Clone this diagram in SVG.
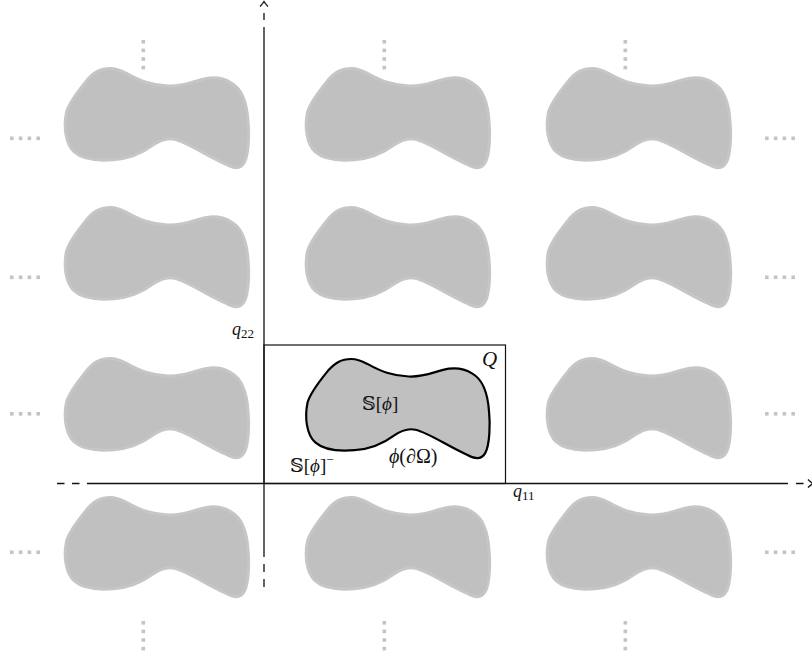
<svg xmlns="http://www.w3.org/2000/svg" width="812" height="657" viewBox="0 0 812 657">
<style>
.tile{fill:#c0c0c0;stroke:#c6c6c6;stroke-width:3;stroke-linejoin:round}
.main{fill:#c0c0c0;stroke:#000;stroke-width:2.2;stroke-linejoin:round}
.dot{fill:#c4c4c4}
.ax{stroke:#111;stroke-width:1.3;fill:none}
.cell{stroke:#111;stroke-width:1.2;fill:none}
.lbl{font-family:"Liberation Serif","DejaVu Serif","DejaVu Sans",serif;fill:#111}
.it{font-style:italic}
</style>
<defs>
<path id="blob" d="M 46,0 C 35.4,0 29.5,3.9 22.6,11.6 C 14.7,21.3 4.9,33 2,43.7 C -1,58.2 1,75.7 9.8,83.4 C 19.6,92.2 37.3,92.2 49.1,91.2 C 63.8,90.2 76.6,85.4 88.4,76.6 C 95.3,71.8 102.1,68.9 110,70.8 C 122.8,73.7 142.4,87.3 162,96 C 168.9,99.9 175.8,100.9 179.7,94.1 C 184.6,85.4 184.6,63.1 183.6,53.4 C 182.7,38.8 178.7,21.3 166.9,14.6 C 159.1,9.7 151.2,8.7 143.4,9.7 C 130.6,11.6 119.8,18.4 103.1,17.5 C 86.4,16.5 75.6,12.6 61.9,4.9 C 56,1.9 51.1,0 46,0 Z"/>
<g id="hdots"><rect x="0" y="0" width="3.6" height="3.6"/><rect x="8.8" y="0" width="3.6" height="3.6"/><rect x="17.6" y="0" width="3.6" height="3.6"/><rect x="26.4" y="0" width="3.6" height="3.6"/></g>
<g id="vdots"><rect x="0" y="0" width="3.6" height="3.6"/><rect x="0" y="8.6" width="3.6" height="3.6"/><rect x="0" y="17.2" width="3.6" height="3.6"/><rect x="0" y="25.8" width="3.6" height="3.6"/></g>
</defs>
<rect width="812" height="657" fill="#fff"/>

<g id="tiles">
<g id="tile-r1c1"><use href="#blob" class="tile" transform="translate(64.5,68.5)"/></g>
<g id="tile-r1c2"><use href="#blob" class="tile" transform="translate(305.5,68.5)"/></g>
<g id="tile-r1c3"><use href="#blob" class="tile" transform="translate(546.5,68.5)"/></g>
<g id="tile-r2c1"><use href="#blob" class="tile" transform="translate(64.5,207.5)"/></g>
<g id="tile-r2c2"><use href="#blob" class="tile" transform="translate(305.5,207.5)"/></g>
<g id="tile-r2c3"><use href="#blob" class="tile" transform="translate(546.5,207.5)"/></g>
<g id="tile-r3c1"><use href="#blob" class="tile" transform="translate(64.5,358.5)"/></g>
<g id="tile-r3c3"><use href="#blob" class="tile" transform="translate(546.5,358.5)"/></g>
<g id="tile-r4c1"><use href="#blob" class="tile" transform="translate(64.5,497.5)"/></g>
<g id="tile-r4c2"><use href="#blob" class="tile" transform="translate(305.5,497.5)"/></g>
<g id="tile-r4c3"><use href="#blob" class="tile" transform="translate(546.5,497.5)"/></g>
</g>

<g id="ellipses" class="dot">
<use href="#vdots" x="141.5" y="40"/>
<use href="#vdots" x="382.5" y="40"/>
<use href="#vdots" x="623.5" y="40"/>
<use href="#vdots" x="141.5" y="621"/>
<use href="#vdots" x="382.5" y="621"/>
<use href="#vdots" x="623.5" y="621"/>
<use href="#hdots" x="10" y="136.5"/>
<use href="#hdots" x="10" y="275.5"/>
<use href="#hdots" x="10" y="412"/>
<use href="#hdots" x="10" y="550.5"/>
<use href="#hdots" x="765" y="136.5"/>
<use href="#hdots" x="765" y="275.5"/>
<use href="#hdots" x="765" y="412"/>
<use href="#hdots" x="765" y="550.5"/>
</g>

<g id="cell-Q">
<rect class="cell" x="264" y="345" width="241.5" height="138.5"/>
<use href="#blob" class="main" transform="translate(305.5,359)"/>
</g>

<g id="connectors">
<path class="ax" d="M 264,557 V 27 M 264,20 V 13 M 264,564 V 572 M 264,579 V 587"/>
<path class="ax" stroke-width="1.2" d="M 260,6.5 Q 262.5,4 264,1.5 Q 265.5,4 268,6.5"/>
<path class="ax" d="M 87,483.5 H 788 M 57,483.5 H 64.5 M 72,483.5 H 79.5 M 796,483.5 H 803.5"/>
<path class="ax" stroke-width="1.2" d="M 808,479.5 Q 810.5,482 813,483.5 Q 810.5,485 808,487.5"/>
</g>

<g id="labels" class="lbl">
<text x="232" y="335" class="it" font-size="18">q<tspan font-style="normal" font-size="13" dy="3">22</tspan></text>
<text x="513" y="497" class="it" font-size="18">q<tspan font-style="normal" font-size="13" dy="3">11</tspan></text>
<text x="482" y="366" class="it" font-size="21">Q</text>
<text x="362" y="410" font-size="19">𝕊[<tspan class="it">ϕ</tspan>]</text>
<text x="290" y="472" font-size="19">𝕊[<tspan class="it">ϕ</tspan>]<tspan font-size="13" dy="-8">−</tspan></text>
<text x="389" y="463" font-size="20"><tspan class="it">ϕ</tspan>(∂Ω)</text>
</g>
</svg>
